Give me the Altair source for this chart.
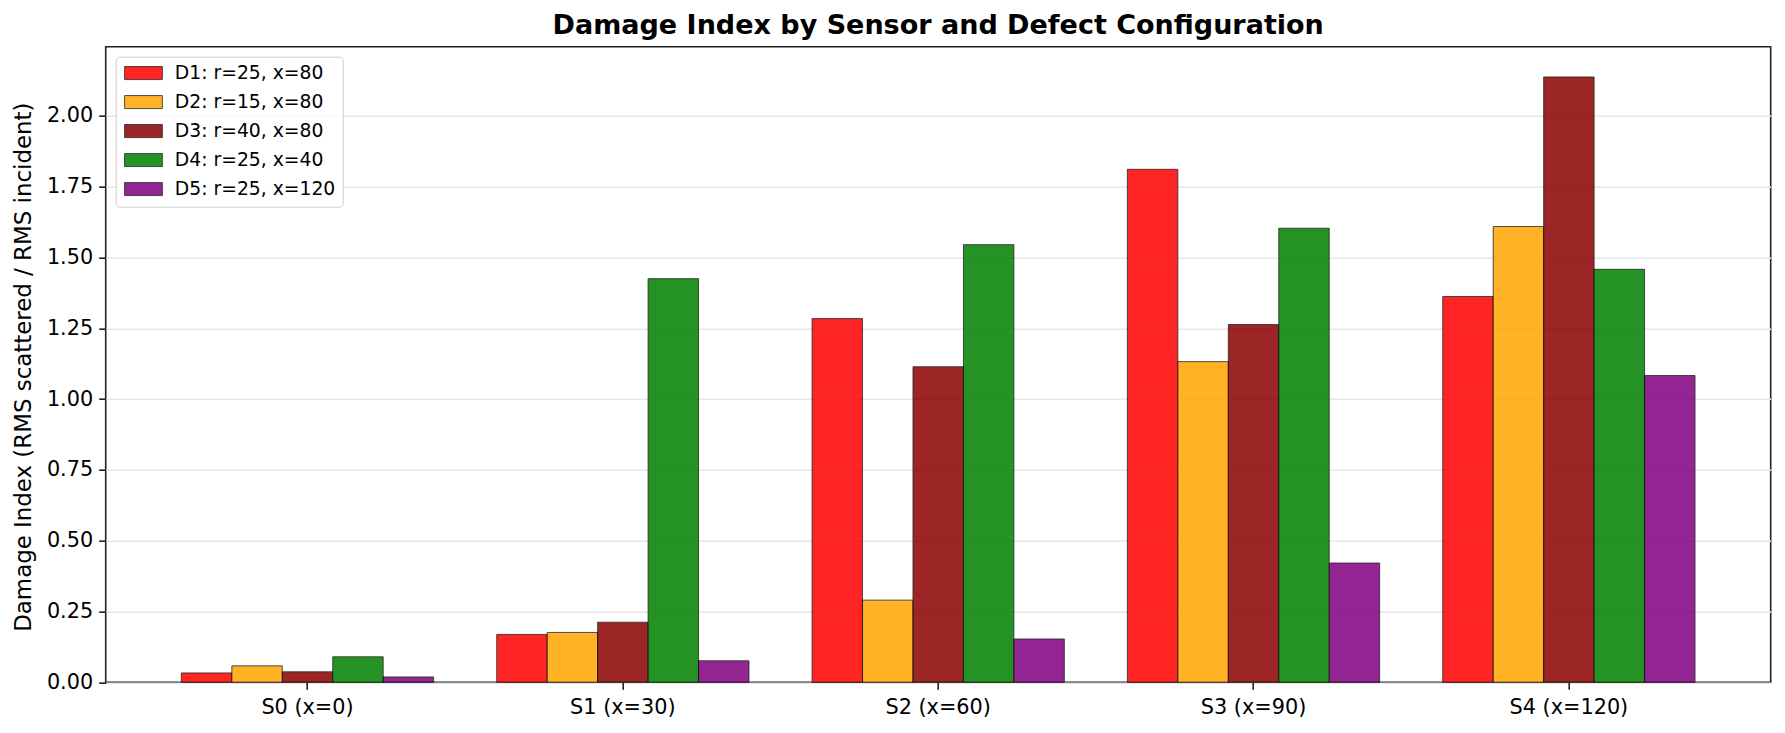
import altair as alt
import pandas as pd

sensors = ["S0 (x=0)", "S1 (x=30)", "S2 (x=60)", "S3 (x=90)", "S4 (x=120)"]
defects = ["D1: r=25, x=80", "D2: r=15, x=80", "D3: r=40, x=80", "D4: r=25, x=40", "D5: r=25, x=120"]
colors = ["red", "orange", "darkred", "green", "purple"]

d1 = [0.033, 0.169, 1.284, 1.811, 1.362]
d2 = [0.058, 0.176, 0.290, 1.132, 1.609]
d3 = [0.037, 0.212, 1.114, 1.263, 2.137]
d4 = [0.090, 1.425, 1.545, 1.603, 1.458]
d5 = [0.019, 0.076, 0.153, 0.421, 1.083]

y_ticks = [0.0, 0.25, 0.5, 0.75, 1.0, 1.25, 1.5, 1.75, 2.0]

series = [d1, d2, d3, d4, d5]
rows = []
for name, vals in zip(defects, series):
    for s, v in zip(sensors, vals):
        rows.append({"sensor": s, "defect": name, "value": v})
df = pd.DataFrame(rows)

FONT = "DejaVu Sans"
W, H = 1665, 635.6
ymax = max(max(v) for v in series) * 1.05

chart = alt.Chart(df).mark_bar(
    opacity=0.85, stroke="black", strokeWidth=0.8
).encode(
    x=alt.X(
        "sensor:N", sort=sensors,
        scale=alt.Scale(paddingInner=0.2, paddingOuter=0.24),
        axis=alt.Axis(
            title=None, labelAngle=0, labelFont=FONT, labelFontSize=20.8,
            labelColor="black", tickSize=7, tickWidth=1.6, tickColor="#222",
            labelPadding=8, grid=False, domain=False, bandPosition=0.5,
        ),
    ),
    xOffset=alt.XOffset("defect:N", sort=defects,
                        scale=alt.Scale(paddingInner=0, paddingOuter=0)),
    y=alt.Y(
        "value:Q",
        scale=alt.Scale(domain=[0, ymax], nice=False, zero=True),
        axis=alt.Axis(
            values=y_ticks, format=".2f",
            title="Damage Index (RMS scattered / RMS incident)",
            titleFont=FONT, titleFontSize=22.9, titleFontWeight="normal",
            titleColor="black", titleX=-82, titleY=320, titleAngle=270,
            titleAlign="center", titleBaseline="middle",
            labelFont=FONT, labelFontSize=20.8, labelColor="black",
            tickSize=7, tickWidth=1.6, tickColor="#222", labelPadding=6,
            grid=True, gridColor="#e6e6e6", gridWidth=1.6, domain=False,
        ),
    ),
    color=alt.Color(
        "defect:N", sort=defects,
        scale=alt.Scale(domain=defects, range=colors),
        legend=alt.Legend(
            title=None, orient="top-left", offset=10, padding=7,
            strokeColor="#cccccc", fillColor="rgba(255,255,255,0.8)",
            cornerRadius=4,
            symbolType="M-2.7,-0.93L2.7,-0.93L2.7,0.93L-2.7,0.93Z",
            symbolSize=196, symbolOffset=11.4, labelOffset=22,
            symbolStrokeColor="black", symbolStrokeWidth=0.8,
            symbolOpacity=0.85, rowPadding=9,
            labelFont=FONT, labelFontSize=18.75, labelColor="black",
            labelLimit=400,
        ),
    ),
).properties(
    width=W, height=H,
    background="white",
    title=alt.TitleParams(
        "Damage Index by Sensor and Defect Configuration",
        font=FONT, fontSize=27, fontWeight="bold", color="black",
        anchor="middle", offset=7,
    ),
    autosize=alt.AutoSizeParams(type="none"),
    padding={"left": 97.7, "top": 38.7, "right": 6.3, "bottom": 42.7},
).configure_view(
    stroke="#222", strokeWidth=1.6
)

chart.save("out.html", embed_options={"renderer": "svg", "actions": False})
